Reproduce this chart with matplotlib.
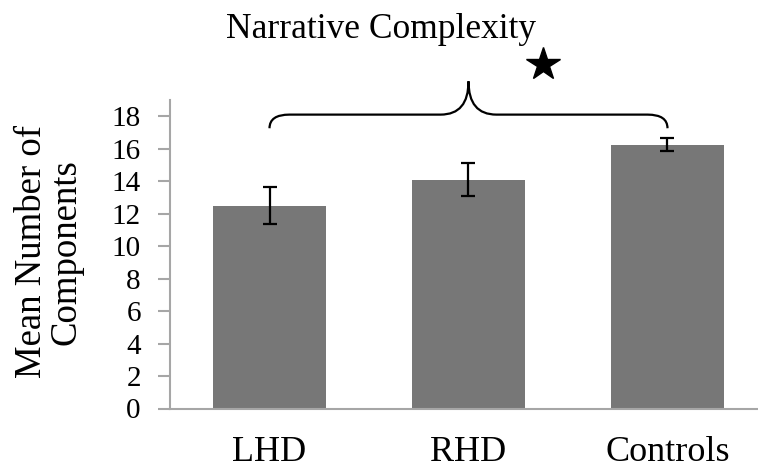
import matplotlib
matplotlib.use('Agg')
import matplotlib.pyplot as plt
from matplotlib.path import Path
from matplotlib.patches import PathPatch

plt.rcParams['font.family'] = ['Liberation Serif', 'DejaVu Serif']

groups = ['LHD', 'RHD', 'Controls']
means = [12.5, 14.1, 16.25]
errors = [1.13, 0.99, 0.38]
yticks = [0, 2, 4, 6, 8, 10, 12, 14, 16, 18]

bar_color = '#777777'
axis_color = '#a6a6a6'

fig = plt.figure(figsize=(7.58, 4.70), dpi=100)
ax = fig.add_axes([170 / 758, 61.5 / 470, 597 / 758, 308.5 / 470])

x = list(range(len(groups)))
ax.bar(x, means, width=0.565, color=bar_color, zorder=2)
ax.errorbar(x, means, yerr=errors, fmt='none', ecolor='black',
            elinewidth=1.6, capsize=5, capthick=1.6, zorder=3)

ax.set_xlim(-0.5, len(groups) - 0.5)
ax.set_ylim(0, 19)
ax.set_yticks(yticks)
ax.set_xticks(x)
ax.set_xticklabels(groups, fontsize=26)
ax.tick_params(axis='x', length=0, pad=20)
ax.tick_params(axis='y', direction='out', length=9, width=1.5,
               color=axis_color, labelsize=21, pad=12)

for side in ['top', 'right']:
    ax.spines[side].set_visible(False)
for side in ['left', 'bottom']:
    ax.spines[side].set_color(axis_color)
    ax.spines[side].set_linewidth(1.5)

# curly brace over the groups
y_end, y_h, y_peak = 17.26, 18.1, 20.15
x0, xm, x1 = x[0], x[1], x[2]
verts = [(x0, y_end), (x0, y_h), (x0 + 0.1, y_h),
         (xm - 0.14, y_h), (xm, y_h), (xm, y_peak),
         (xm, y_h), (xm + 0.14, y_h),
         (x1 - 0.1, y_h), (x1, y_h), (x1, y_end)]
codes = [Path.MOVETO, Path.CURVE3, Path.CURVE3,
         Path.LINETO, Path.CURVE3, Path.CURVE3,
         Path.CURVE3, Path.CURVE3,
         Path.LINETO, Path.CURVE3, Path.CURVE3]
brace = PathPatch(Path(verts, codes), facecolor='none', edgecolor='black',
                  linewidth=1.6, clip_on=False, zorder=4)
ax.add_patch(brace)

ax.plot([1.374], [21.2], marker='*', markersize=25, color='black',
        clip_on=False, zorder=5)

fig.text(0.503, 0.938, 'Narrative Complexity', fontsize=25.5,
         ha='center', va='center')
fig.text(0.064, 0.464, 'Mean Number of\nComponents', fontsize=26.5,
         rotation=90, ha='center', va='center', linespacing=1.0)

fig.savefig('out.png', dpi=100)
